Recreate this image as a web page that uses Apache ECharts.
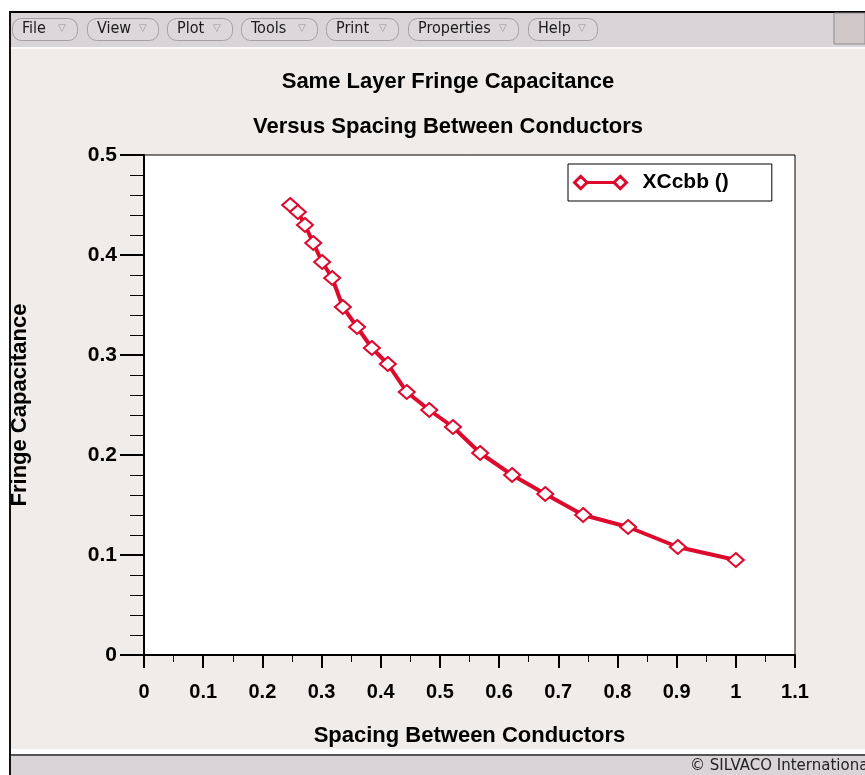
<!DOCTYPE html>
<html>
<head>
<meta charset="utf-8">
<script src="https://cdn.jsdelivr.net/npm/echarts@6/dist/echarts.min.js"></script>
<style>
html,body{margin:0;padding:0;background:#fff;}
#chart{width:865px;height:775px;}
</style>
</head>
<body>
<div id="chart"></div>
<script>
// ---- data ----
const spacing = [0.247,0.260,0.272,0.286,0.301,0.318,0.336,0.360,0.385,0.412,0.444,0.482,0.522,0.568,0.622,0.678,0.742,0.818,0.902,1.0];
const fringeCap = [0.450,0.443,0.430,0.412,0.393,0.377,0.348,0.328,0.307,0.291,0.263,0.245,0.228,0.202,0.180,0.161,0.140,0.128,0.108,0.095];
const seriesName = 'XCcbb ()';
const titleLine1 = 'Same Layer Fringe Capacitance';
const titleLine2 = 'Versus Spacing Between Conductors';
const xAxisName = 'Spacing Between Conductors';
const yAxisName = 'Fringe Capacitance';
const menuItems = ['File', 'View', 'Plot', 'Tools', 'Print', 'Properties', 'Help'];
const statusText = '\u00A9 SILVACO International';

const RED = '#dd0a2e';
const BOLD = '"Liberation Sans", Arial, Helvetica, sans-serif';
const NARROW = '"Liberation Sans Narrow", "DejaVu Sans Condensed", Arial, sans-serif';

// menu button geometry
const menuX = [12, 87, 167, 241, 326, 408, 528];
const menuW = [65, 71, 65, 76, 72, 110, 69];

const graphics = [
  {type:'rect', shape:{x:0,y:0,width:865,height:11}, style:{fill:'#fff'}, z:-5},
  {type:'rect', shape:{x:0,y:0,width:9,height:775}, style:{fill:'#fff'}, z:-5},
  {type:'rect', shape:{x:9,y:11,width:856,height:2}, style:{fill:'#000'}, z:-4},
  {type:'rect', shape:{x:9,y:11,width:2,height:764}, style:{fill:'#111'}, z:-4},
  {type:'rect', shape:{x:11,y:13,width:854,height:34}, style:{fill:'#d9d4d7'}, z:-4},
  {type:'rect', shape:{x:834,y:13,width:31,height:31}, style:{fill:'#d0c8c9', stroke:'#8f8a8d', lineWidth:1}, z:-3},
  {type:'rect', shape:{x:11,y:47,width:854,height:2}, style:{fill:'#fbfafa'}, z:-4},
  {type:'rect', shape:{x:11,y:749,width:854,height:5}, style:{fill:'#ffffff'}, z:-4},
  {type:'rect', shape:{x:11,y:754,width:854,height:2}, style:{fill:'#555'}, z:-4},
  {type:'rect', shape:{x:11,y:756,width:854,height:19}, style:{fill:'#d9d4d7'}, z:-4},
  {type:'text', x:690, y:759, style:{text:statusText, font:'15px "DejaVu Sans", sans-serif', fill:'#222'}, z:-3}
];
menuItems.forEach((m, i) => {
  graphics.push({type:'rect', shape:{x:menuX[i]+0.5, y:18.5, width:menuW[i], height:22, r:9},
    style:{fill:'#dcd7da', stroke:'#a59fa3', lineWidth:1}, z:-3});
  graphics.push({type:'text', x:menuX[i]+10, y:21,
    style:{text:m, font:'16px ' + NARROW, fill:'#1a1a1a'}, z:-2});
  graphics.push({type:'text', x:menuX[i]+menuW[i]-19, y:23,
    style:{text:'\u25BD', font:'10px "DejaVu Sans", sans-serif', fill:'#9a9599'}, z:-2});
});

const chart = echarts.init(document.getElementById('chart'), null, {renderer:'canvas'});
chart.setOption({
  backgroundColor:'#efece9',
  animation:false,
  graphic: graphics,
  title:[
    {text:titleLine1, left:443, top:66, textAlign:'center',
     textStyle:{fontFamily:BOLD, fontWeight:'bold', fontSize:22, color:'#000'}},
    {text:titleLine2, left:443, top:111, textAlign:'center',
     textStyle:{fontFamily:BOLD, fontWeight:'bold', fontSize:22, color:'#000'}}
  ],
  legend:{
    data:[seriesName],
    left:568, top:164,
    orient:'horizontal',
    backgroundColor:'#fff',
    borderColor:'#000',
    borderWidth:1,
    padding:[8, 43, 8, 5],
    itemWidth:52, itemHeight:14,
    icon:'path://M1,7 L7,1 L13,7 L7,13 Z M13,7 L39,7 M39,7 L45,1 L51,7 L45,13 Z',
    itemStyle:{color:'#fff', borderColor:RED, borderWidth:3},
    textStyle:{fontFamily:BOLD, fontWeight:'bold', fontSize:21, color:'#000', padding:[0,0,0,11]}
  },
  grid:{left:144, top:155, width:651, height:500, show:true, backgroundColor:'#fff', borderColor:'#000', borderWidth:1},
  xAxis:{
    type:'value', min:0, max:1.1, interval:0.1,
    name:xAxisName, nameLocation:'middle', nameGap:70,
    nameTextStyle:{fontFamily:BOLD, fontWeight:'bold', fontSize:22, color:'#000'},
    axisLine:{show:true, lineStyle:{color:'#000', width:2}},
    axisTick:{show:true, inside:false, length:13, lineStyle:{color:'#000', width:2}},
    minorTick:{show:true, splitNumber:2, length:7, lineStyle:{color:'#000', width:1}},
    splitLine:{show:false},
    axisLabel:{margin:27, fontFamily:BOLD, fontWeight:'bold', fontSize:20, color:'#000',
      formatter:v => String(+v.toFixed(1))}
  },
  yAxis:{
    type:'value', min:0, max:0.5, interval:0.1,
    name:yAxisName, nameLocation:'middle', nameGap:113, nameRotate:90,
    nameTextStyle:{fontFamily:BOLD, fontWeight:'bold', fontSize:22, color:'#000'},
    axisLine:{show:true, lineStyle:{color:'#000', width:2}},
    axisTick:{show:true, inside:false, length:24, lineStyle:{color:'#000', width:2}},
    minorTick:{show:true, splitNumber:5, length:14, lineStyle:{color:'#000', width:1}},
    splitLine:{show:false},
    axisLabel:{margin:27, fontFamily:BOLD, fontWeight:'bold', fontSize:21, color:'#000',
      formatter:v => String(+v.toFixed(1))}
  },
  series:[{
    name:seriesName,
    type:'line',
    data: spacing.map((x, i) => [x, fringeCap[i]]),
    symbol:'emptyDiamond',
    symbolSize:[16, 14],
    showAllSymbol:true,
    lineStyle:{color:RED, width:4},
    itemStyle:{color:RED, borderColor:RED, borderWidth:3.5}
  }]
});
</script>
</body>
</html>
